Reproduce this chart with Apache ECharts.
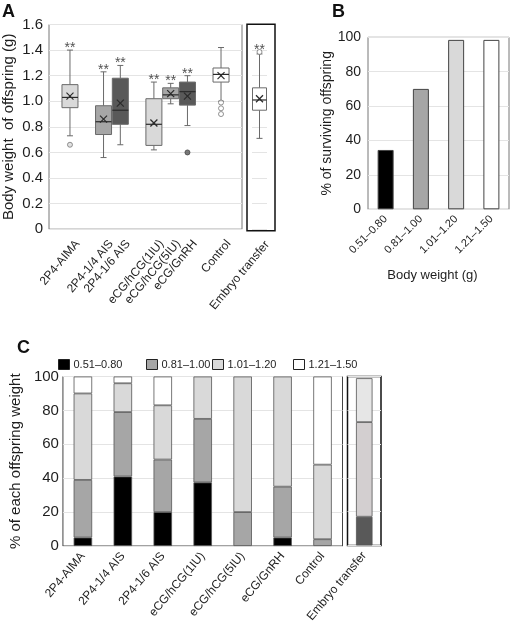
<!DOCTYPE html>
<html><head><meta charset="utf-8">
<script src="https://cdn.jsdelivr.net/npm/echarts@6/dist/echarts.min.js"></script>
<style>html,body{margin:0;padding:0;background:#fff}#c{width:510px;height:625px}</style>
</head><body><div id="c"></div>
<script>
// ---------- Panel A : box plots ----------
const xTicksA = ['', '', '2P4-AIMA', '', '', '', '2P4-1/4 AIS', '', '2P4-1/6 AIS', '', '', '',
  'eCG/hCG(1IU)', '', 'eCG/hCG(5IU)', '', 'eCG/GnRH', '', '', '', 'Control', '', ''];
const xTicksAEmbryo = ['Embryo transfer'];
const groupsA = ['2P4-AIMA', '2P4-1/4 AIS', '2P4-1/6 AIS', 'eCG/hCG(1IU)', 'eCG/hCG(5IU)', 'eCG/GnRH', 'Control', 'Embryo transfer'];
const whiskerLowA = [0.73, 0.56, 0.66, 0.62, 0.98, 0.81, 1.00, 0.71];
const q1A         = [0.95, 0.74, 0.82, 0.655, 1.02, 0.97, 1.15, 0.93];
const medianA     = [1.03, 0.84, 0.93, 0.82, 1.05, 1.075, 1.21, 1.01];
const q3A         = [1.13, 0.965, 1.18, 1.02, 1.105, 1.15, 1.26, 1.105];
const whiskerHighA = [1.40, 1.23, 1.28, 1.15, 1.14, 1.20, 1.42, 1.37];
const meanA       = [1.04, 0.86, 0.985, 0.83, 1.06, 1.04, 1.20, 1.02];
const signifA     = ['**', '**', '**', '**', '**', '**', '', '**'];
const outlierGroupA = ['2P4-AIMA', 'eCG/GnRH', 'Control', 'Control', 'Control', 'Embryo transfer'];
const outlierValueA = [0.66, 0.60, 0.99, 0.945, 0.90, 1.385];
const yTicksA = [0, 0.2, 0.4, 0.6, 0.8, 1.0, 1.2, 1.4, 1.6];

// ---------- Panel B : survival ----------
const bCategories = ['0.51–0.80', '0.81–1.00', '1.01–1.20', '1.21–1.50'];
const bSurvival = [34.5, 70, 98.5, 98.5];

// ---------- Panel C : stacked shares ----------
const cGroups = ['2P4-AIMA', '2P4-1/4 AIS', '2P4-1/6 AIS', 'eCG/hCG(1IU)', 'eCG/hCG(5IU)', 'eCG/GnRH', 'Control'];
const cRanges = ['0.51–0.80', '0.81–1.00', '1.01–1.20', '1.21–1.50'];
const cShare1 = [5, 41, 20, 37.5, 0, 5, 0];
const cShare2 = [34, 38, 31, 37.5, 20, 30, 4];
const cShare3 = [51, 17, 32, 25, 80, 65, 44];
const cShare4 = [10, 4, 17, 0, 0, 0, 52];
const cEmbryoGroup = ['Embryo transfer'];
const cEmbryoShares = [17, 56, 26];

// ---------- styles ----------
const FONT = 'Liberation Sans, Arial, sans-serif';
const TXT = '#1e1e1e';
const boxFill = {'2P4-AIMA':'#d9d9d9','2P4-1/4 AIS':'#a6a6a6','2P4-1/6 AIS':'#595959','eCG/hCG(1IU)':'#d9d9d9',
  'eCG/hCG(5IU)':'#a6a6a6','eCG/GnRH':'#595959','Control':'#ffffff','Embryo transfer':'#ffffff'};
const rangeColors = ['#000000', '#a6a6a6', '#d9d9d9', '#ffffff'];
const embryoColors = ['#595959', '#d3cfd0', '#e6e6e6'];

const isEmb = g => g === 'Embryo transfer';
const catIdx = g => isEmb(g) ? xTicksAEmbryo.indexOf(g) : xTicksA.indexOf(g);

function boxRows(emb) {
  const rows = [];
  groupsA.forEach((g, i) => {
    if (isEmb(g) !== emb) return;
    rows.push({value: [catIdx(g), whiskerLowA[i], q1A[i], medianA[i], q3A[i], whiskerHighA[i], meanA[i]], group: g});
  });
  return rows;
}
function makeRender(rows, bw) {
  return function (params, api) {
    const g = rows[params.dataIndex].group;
    const x = api.value(0);
    const lo = api.coord([x, api.value(1)]);
    const q1 = api.coord([x, api.value(2)]);
    const md = api.coord([x, api.value(3)]);
    const q3 = api.coord([x, api.value(4)]);
    const hi = api.coord([x, api.value(5)]);
    const mn = api.coord([x, api.value(6)]);
    const cx = lo[0], cap = 3, xs = 3.5;
    const st = {stroke: '#6a6a6a', lineWidth: 1};
    return {type: 'group', children: [
      {type: 'line', shape: {x1: cx, y1: hi[1], x2: cx, y2: q3[1]}, style: st},
      {type: 'line', shape: {x1: cx, y1: lo[1], x2: cx, y2: q1[1]}, style: st},
      {type: 'line', shape: {x1: cx - cap, y1: hi[1], x2: cx + cap, y2: hi[1]}, style: st},
      {type: 'line', shape: {x1: cx - cap, y1: lo[1], x2: cx + cap, y2: lo[1]}, style: st},
      {type: 'rect', shape: {x: cx - bw / 2, y: q3[1], width: bw, height: q1[1] - q3[1]},
        style: {fill: boxFill[g], stroke: '#6a6a6a', lineWidth: 1}},
      {type: 'line', shape: {x1: cx - bw / 2, y1: md[1], x2: cx + bw / 2, y2: md[1]}, style: {stroke: '#2a2a2a', lineWidth: 1.2}},
      {type: 'line', shape: {x1: cx - xs, y1: mn[1] - xs, x2: cx + xs, y2: mn[1] + xs}, style: {stroke: '#2a2a2a', lineWidth: 1.2}},
      {type: 'line', shape: {x1: cx - xs, y1: mn[1] + xs, x2: cx + xs, y2: mn[1] - xs}, style: {stroke: '#2a2a2a', lineWidth: 1.2}}
    ]};
  };
}
const rowsMain = boxRows(false), rowsEmb = boxRows(true);

function outlierData(emb) {
  const d = [];
  outlierGroupA.forEach((g, i) => {
    if (isEmb(g) !== emb) return;
    const f = boxFill[g];
    d.push({value: [catIdx(g), outlierValueA[i]],
      itemStyle: {color: f, borderColor: f === '#595959' ? '#444' : '#777'}});
  });
  return d;
}
function signifData(emb) {
  const d = [];
  groupsA.forEach((g, i) => {
    if (isEmb(g) !== emb || !signifA[i]) return;
    let top = whiskerHighA[i];
    outlierGroupA.forEach((og, j) => { if (og === g) top = Math.max(top, outlierValueA[j]); });
    d.push({value: [catIdx(g), top], label: {formatter: signifA[i]}});
  });
  return d;
}
const sigLabel = {show: true, position: 'top', distance: 0, offset: [0, 5], fontSize: 14, color: TXT, fontFamily: FONT};

const labelStyle = (fs) => ({fontSize: fs, color: TXT, fontFamily: FONT});
const gridLine = {show: true, lineStyle: {color: '#e4e4e4', width: 1}};
const shiftedLabelA = Object.assign({interval: 0, rotate: 50, margin: 6, verticalAlign: 'top', padding: [4, 0, 0, 0]}, labelStyle(12));

const chart = echarts.init(document.getElementById('c'), null, {renderer: 'canvas'});
chart.setOption({
  animation: false,
  textStyle: {fontFamily: FONT},
  title: [
    {text: 'A', left: 2, top: 3, padding: 0, textStyle: {fontSize: 18, fontWeight: 'bold', color: '#111', fontFamily: FONT}},
    {text: 'B', left: 332, top: 3, padding: 0, textStyle: {fontSize: 18, fontWeight: 'bold', color: '#111', fontFamily: FONT}},
    {text: 'C', left: 17, top: 339, padding: 0, textStyle: {fontSize: 18, fontWeight: 'bold', color: '#111', fontFamily: FONT}}
  ],
  legend: cRanges.map((name, i) => ({
    data: [name], left: [58, 146, 212, 293][i], top: 359, padding: 0, icon: 'rect',
    itemWidth: 11, itemHeight: 10, itemGap: 0, selectedMode: false,
    itemStyle: {borderColor: '#222', borderWidth: 1},
    textStyle: {fontSize: 11, color: TXT, fontFamily: FONT, padding: [0, 0, 0, -1]}
  })),
  grid: [
    {left: 49, top: 24.5, width: 193, height: 204.7, show: true, borderColor: '#777', borderWidth: 1},
    {left: 252, top: 24.5, width: 15, height: 204.7, show: false},
    {left: 368, top: 37.3, width: 141, height: 172, show: true, borderColor: '#777', borderWidth: 1},
    {left: 53, top: 376.5, width: 289.5, height: 169.5, show: true, borderColor: '#444', borderWidth: 1},
    {left: 347.5, top: 376.5, width: 33.5, height: 170.5, show: true, borderColor: '#111', borderWidth: 1.5}
  ],
  graphic: [
    {type: 'rect', shape: {x: 247, y: 24.3, width: 28, height: 206.4}, style: {fill: 'none', stroke: '#111', lineWidth: 1.5}, z: 10}
  ],
  xAxis: [
    {gridIndex: 0, type: 'category', data: xTicksA, axisTick: {show: false}, axisLine: {show: false},
      axisLabel: shiftedLabelA},
    {gridIndex: 1, type: 'category', data: xTicksAEmbryo, axisTick: {show: false}, axisLine: {show: false},
      axisLabel: Object.assign({}, shiftedLabelA, {margin: 7})},
    {gridIndex: 2, type: 'category', data: bCategories, axisTick: {show: false}, axisLine: {show: false},
      axisLabel: Object.assign({interval: 0, rotate: 45, margin: 8}, labelStyle(11)),
      name: 'Body weight (g)', nameLocation: 'middle', nameGap: 60,
      nameTextStyle: {fontSize: 13, color: TXT, fontFamily: FONT, padding: [0, 12, 0, 0]}},
    {gridIndex: 3, type: 'category', data: cGroups, axisTick: {show: false}, axisLine: {show: false},
      axisLabel: Object.assign({interval: 0, rotate: 50, margin: 8}, labelStyle(12))},
    {gridIndex: 4, type: 'category', data: cEmbryoGroup, axisTick: {show: false}, axisLine: {show: false},
      axisLabel: Object.assign({interval: 0, rotate: 50, margin: 8}, labelStyle(12))}
  ],
  yAxis: [
    {gridIndex: 0, type: 'value', min: 0, max: 1.6, interval: 0.2, splitLine: gridLine,
      axisLine: {show: false}, axisTick: {show: false},
      axisLabel: Object.assign({margin: 6, formatter: v => v === 0 ? '0' : v.toFixed(1)}, labelStyle(15)),
      name: 'Body weight  of offspring (g)', nameLocation: 'middle', nameGap: 33,
      nameTextStyle: {fontSize: 15, color: TXT, fontFamily: FONT}},
    {gridIndex: 1, type: 'value', min: 0, max: 1.6, interval: 0.2, splitLine: gridLine,
      axisLine: {show: false}, axisTick: {show: false}, axisLabel: {show: false}},
    {gridIndex: 2, type: 'value', min: 0, max: 100, interval: 20, splitLine: gridLine,
      axisLine: {show: false}, axisTick: {show: false},
      axisLabel: Object.assign({margin: 7}, labelStyle(14)),
      name: '% of surviving offspring', nameLocation: 'middle', nameGap: 31,
      nameTextStyle: {fontSize: 14, color: TXT, fontFamily: FONT}},
    {gridIndex: 3, type: 'value', min: 0, max: 100, interval: 20, splitLine: gridLine,
      axisLine: {show: false}, axisTick: {show: false},
      axisLabel: Object.assign({margin: 4}, labelStyle(15)),
      name: '% of each offspring weight', nameLocation: 'middle', nameGap: 28,
      nameTextStyle: {fontSize: 15, color: TXT, fontFamily: FONT}},
    {gridIndex: 4, type: 'value', min: 0, max: 100, interval: 20, splitLine: gridLine,
      axisLine: {show: false}, axisTick: {show: false}, axisLabel: {show: false}}
  ],
  series: [
    {type: 'custom', xAxisIndex: 0, yAxisIndex: 0, renderItem: makeRender(rowsMain, 16),
      encode: {x: 0, y: [1, 2, 3, 4, 5, 6]}, data: rowsMain.map(r => r.value), z: 3},
    {type: 'custom', xAxisIndex: 1, yAxisIndex: 1, renderItem: makeRender(rowsEmb, 14),
      encode: {x: 0, y: [1, 2, 3, 4, 5, 6]}, data: rowsEmb.map(r => r.value), z: 3},
    {type: 'scatter', xAxisIndex: 0, yAxisIndex: 0, symbol: 'circle', symbolSize: 5,
      itemStyle: {borderWidth: 1}, data: outlierData(false), z: 4},
    {type: 'scatter', xAxisIndex: 1, yAxisIndex: 1, symbol: 'circle', symbolSize: 5,
      itemStyle: {borderWidth: 1}, data: outlierData(true), z: 4},
    {type: 'scatter', xAxisIndex: 0, yAxisIndex: 0, symbolSize: 0, label: sigLabel, data: signifData(false), z: 5},
    {type: 'scatter', xAxisIndex: 1, yAxisIndex: 1, symbolSize: 0, label: sigLabel, data: signifData(true), z: 5},
    {type: 'bar', xAxisIndex: 2, yAxisIndex: 2, barWidth: 16,
      itemStyle: {borderColor: '#444', borderWidth: 1},
      data: bSurvival.map((v, i) => ({value: v, itemStyle: {color: rangeColors[i]}}))},
    ...[cShare1, cShare2, cShare3, cShare4].map((arr, i) => ({
      type: 'bar', name: cRanges[i], stack: 'c', xAxisIndex: 3, yAxisIndex: 3, barWidth: 18.5,
      itemStyle: {color: rangeColors[i], borderColor: '#555', borderWidth: 0.8},
      data: arr.map(v => v === 0 ? null : v)
    })),
    ...cEmbryoShares.map((v, i) => ({
      type: 'bar', name: 'embryo-' + i, stack: 'e', xAxisIndex: 4, yAxisIndex: 4, barWidth: 16.5,
      itemStyle: {color: embryoColors[i], borderColor: '#555', borderWidth: 0.8},
      data: [v]
    }))
  ]
});
</script></body></html>
